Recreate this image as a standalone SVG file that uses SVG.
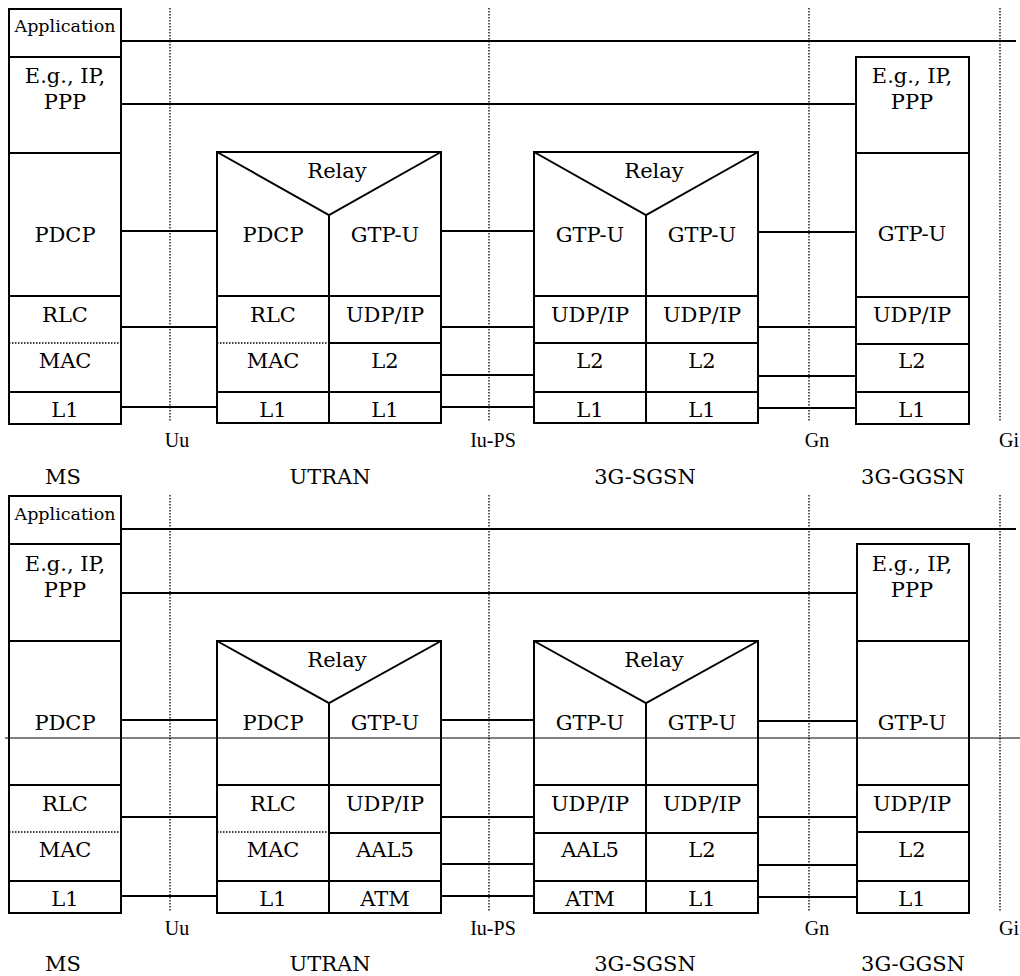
<svg xmlns="http://www.w3.org/2000/svg" width="1020" height="976" viewBox="0 0 1020 976">
<style>
.box{fill:none;stroke:#000;stroke-width:2}
.ln{stroke:#000;stroke-width:2;fill:none}
.dot{stroke:#000;stroke-width:1.3;stroke-dasharray:1.5,1.5;fill:none}
.thin{stroke:#000;stroke-width:1;fill:none}
.conn{stroke:#000;stroke-width:1.8;fill:none}
text{font-family:'DejaVu Serif','Liberation Serif',serif;font-size:21px;fill:#000;text-anchor:middle}
text.app{font-size:17.5px}
text.ifl{font-family:'Liberation Serif','Times New Roman',serif;font-size:20px}
</style>
<rect width="1020" height="976" fill="#fff"/>
<g id="top">
<g id="interfaces-top">
<line class="dot" x1="170" y1="8" x2="170" y2="422"/>
<line class="dot" x1="489" y1="8" x2="489" y2="422"/>
<line class="dot" x1="809" y1="8" x2="809" y2="422"/>
<line class="dot" x1="1000" y1="8" x2="1000" y2="422"/>
<text class="ifl" x="177" y="447">Uu</text>
<text class="ifl" x="493" y="447">Iu-PS</text>
<text class="ifl" x="817" y="447">Gn</text>
<text class="ifl" x="1009" y="447">Gi</text>
</g>
<g id="connectors-top">
<line class="conn" x1="121" y1="41" x2="1016" y2="41"/>
<line class="conn" x1="121" y1="104" x2="856" y2="104"/>
<line class="conn" x1="121" y1="231" x2="217" y2="231"/>
<line class="conn" x1="121" y1="327" x2="217" y2="327"/>
<line class="conn" x1="121" y1="407" x2="217" y2="407"/>
<line class="conn" x1="441" y1="231" x2="534" y2="231"/>
<line class="conn" x1="441" y1="327" x2="534" y2="327"/>
<line class="conn" x1="441" y1="375" x2="534" y2="375"/>
<line class="conn" x1="441" y1="407" x2="534" y2="407"/>
<line class="conn" x1="758" y1="232" x2="856" y2="232"/>
<line class="conn" x1="758" y1="327" x2="856" y2="327"/>
<line class="conn" x1="758" y1="376" x2="856" y2="376"/>
<line class="conn" x1="758" y1="408" x2="856" y2="408"/>
</g>
<g id="ms-top">
<rect class="box" x="9" y="9" width="112" height="415"/>
<line class="ln" x1="9" y1="57" x2="121" y2="57"/>
<line class="ln" x1="9" y1="153" x2="121" y2="153"/>
<line class="ln" x1="9" y1="296" x2="121" y2="296"/>
<line class="dot" x1="9" y1="343" x2="121" y2="343"/>
<line class="ln" x1="9" y1="392" x2="121" y2="392"/>
<text class="app" x="65" y="32">Application</text>
<text x="65" y="83">E.g., IP,</text>
<text x="65" y="109">PPP</text>
<text x="65" y="242">PDCP</text>
<text x="65" y="322">RLC</text>
<text x="65" y="368">MAC</text>
<text x="65" y="417">L1</text>
<text x="63" y="484">MS</text>
</g>
<g id="utran-top">
<rect class="box" x="217" y="152" width="224" height="271"/>
<polyline class="ln" points="217,152 329,215 441,152"/>
<line class="ln" x1="329" y1="215" x2="329" y2="423"/>
<line class="ln" x1="217" y1="296" x2="441" y2="296"/>
<line class="dot" x1="217" y1="343" x2="329" y2="343"/>
<line class="ln" x1="329" y1="343" x2="441" y2="343"/>
<line class="ln" x1="217" y1="392" x2="441" y2="392"/>
<text x="337" y="178">Relay</text>
<text x="273" y="242">PDCP</text>
<text x="385" y="242">GTP-U</text>
<text x="273" y="322">RLC</text>
<text x="385" y="322">UDP/IP</text>
<text x="273" y="368">MAC</text>
<text x="385" y="368">L2</text>
<text x="273" y="417">L1</text>
<text x="385" y="417">L1</text>
<text x="330" y="484">UTRAN</text>
</g>
<g id="sgsn-top">
<rect class="box" x="534" y="152" width="224" height="271"/>
<polyline class="ln" points="534,152 646,215 758,152"/>
<line class="ln" x1="646" y1="215" x2="646" y2="423"/>
<line class="ln" x1="534" y1="296" x2="758" y2="296"/>
<line class="ln" x1="534" y1="343" x2="758" y2="343"/>
<line class="ln" x1="534" y1="392" x2="758" y2="392"/>
<text x="654" y="178">Relay</text>
<text x="590" y="242">GTP-U</text>
<text x="702" y="242">GTP-U</text>
<text x="590" y="322">UDP/IP</text>
<text x="702" y="322">UDP/IP</text>
<text x="590" y="368">L2</text>
<text x="702" y="368">L2</text>
<text x="590" y="417">L1</text>
<text x="702" y="417">L1</text>
<text x="645" y="484">3G-SGSN</text>
</g>
<g id="ggsn-top">
<rect class="box" x="856" y="57" width="113" height="367"/>
<line class="ln" x1="856" y1="153" x2="969" y2="153"/>
<line class="ln" x1="856" y1="297" x2="969" y2="297"/>
<line class="ln" x1="856" y1="344" x2="969" y2="344"/>
<line class="ln" x1="856" y1="392" x2="969" y2="392"/>
<text x="912" y="83">E.g., IP,</text>
<text x="912" y="109">PPP</text>
<text x="912" y="241">GTP-U</text>
<text x="912" y="322">UDP/IP</text>
<text x="912" y="368">L2</text>
<text x="912" y="417">L1</text>
<text x="913" y="484">3G-GGSN</text>
</g>
</g>
<g id="bottom" transform="translate(0,488)">
<g id="interfaces-bottom">
<line class="dot" x1="170" y1="7" x2="170" y2="424"/>
<line class="dot" x1="489" y1="7" x2="489" y2="424"/>
<line class="dot" x1="809" y1="7" x2="809" y2="424"/>
<line class="dot" x1="1000" y1="7" x2="1000" y2="424"/>
<text class="ifl" x="177" y="447">Uu</text>
<text class="ifl" x="493" y="447">Iu-PS</text>
<text class="ifl" x="817" y="447">Gn</text>
<text class="ifl" x="1009" y="447">Gi</text>
</g>
<g id="connectors-bottom">
<line class="conn" x1="121" y1="41" x2="1016" y2="41"/>
<line class="conn" x1="121" y1="105" x2="856" y2="105"/>
<line class="conn" x1="121" y1="232" x2="217" y2="232"/>
<line class="conn" x1="121" y1="329" x2="217" y2="329"/>
<line class="conn" x1="121" y1="408" x2="217" y2="408"/>
<line class="conn" x1="441" y1="232" x2="534" y2="232"/>
<line class="conn" x1="441" y1="329" x2="534" y2="329"/>
<line class="conn" x1="441" y1="376" x2="534" y2="376"/>
<line class="conn" x1="441" y1="408" x2="534" y2="408"/>
<line class="conn" x1="758" y1="233" x2="856" y2="233"/>
<line class="conn" x1="758" y1="329" x2="856" y2="329"/>
<line class="conn" x1="758" y1="377" x2="856" y2="377"/>
<line class="conn" x1="758" y1="409" x2="856" y2="409"/>
<line class="thin" x1="5" y1="250" x2="1020" y2="250"/>
</g>
<g id="ms-bottom">
<rect class="box" x="9" y="8" width="112" height="417"/>
<line class="ln" x1="9" y1="56" x2="121" y2="56"/>
<line class="ln" x1="9" y1="153" x2="121" y2="153"/>
<line class="ln" x1="9" y1="297" x2="121" y2="297"/>
<line class="dot" x1="9" y1="344" x2="121" y2="344"/>
<line class="ln" x1="9" y1="393" x2="121" y2="393"/>
<text class="app" x="65" y="32">Application</text>
<text x="65" y="83">E.g., IP,</text>
<text x="65" y="109">PPP</text>
<text x="65" y="242">PDCP</text>
<text x="65" y="323">RLC</text>
<text x="65" y="369">MAC</text>
<text x="65" y="418">L1</text>
<text x="63" y="483">MS</text>
</g>
<g id="utran-bottom">
<rect class="box" x="217" y="153" width="224" height="272"/>
<polyline class="ln" points="217,153 329,215 441,153"/>
<line class="ln" x1="329" y1="215" x2="329" y2="425"/>
<line class="ln" x1="217" y1="297" x2="441" y2="297"/>
<line class="dot" x1="217" y1="344" x2="329" y2="344"/>
<line class="ln" x1="329" y1="345" x2="441" y2="345"/>
<line class="ln" x1="217" y1="393" x2="441" y2="393"/>
<text x="337" y="179">Relay</text>
<text x="273" y="242">PDCP</text>
<text x="385" y="242">GTP-U</text>
<text x="273" y="323">RLC</text>
<text x="385" y="323">UDP/IP</text>
<text x="273" y="369">MAC</text>
<text x="385" y="369">AAL5</text>
<text x="273" y="418">L1</text>
<text x="385" y="418">ATM</text>
<text x="330" y="483">UTRAN</text>
</g>
<g id="sgsn-bottom">
<rect class="box" x="534" y="153" width="224" height="272"/>
<polyline class="ln" points="534,153 646,215 758,153"/>
<line class="ln" x1="646" y1="215" x2="646" y2="425"/>
<line class="ln" x1="534" y1="297" x2="758" y2="297"/>
<line class="ln" x1="534" y1="345" x2="758" y2="345"/>
<line class="ln" x1="534" y1="393" x2="758" y2="393"/>
<text x="654" y="179">Relay</text>
<text x="590" y="242">GTP-U</text>
<text x="702" y="242">GTP-U</text>
<text x="590" y="323">UDP/IP</text>
<text x="702" y="323">UDP/IP</text>
<text x="590" y="369">AAL5</text>
<text x="702" y="369">L2</text>
<text x="590" y="418">ATM</text>
<text x="702" y="418">L1</text>
<text x="645" y="483">3G-SGSN</text>
</g>
<g id="ggsn-bottom">
<rect class="box" x="857" y="56" width="112" height="369"/>
<line class="ln" x1="857" y1="153" x2="969" y2="153"/>
<line class="ln" x1="857" y1="297" x2="969" y2="297"/>
<line class="ln" x1="857" y1="344" x2="969" y2="344"/>
<line class="ln" x1="857" y1="393" x2="969" y2="393"/>
<text x="912" y="83">E.g., IP,</text>
<text x="912" y="109">PPP</text>
<text x="912" y="242">GTP-U</text>
<text x="912" y="323">UDP/IP</text>
<text x="912" y="369">L2</text>
<text x="912" y="418">L1</text>
<text x="913" y="483">3G-GGSN</text>
</g>
</g>
</svg>
